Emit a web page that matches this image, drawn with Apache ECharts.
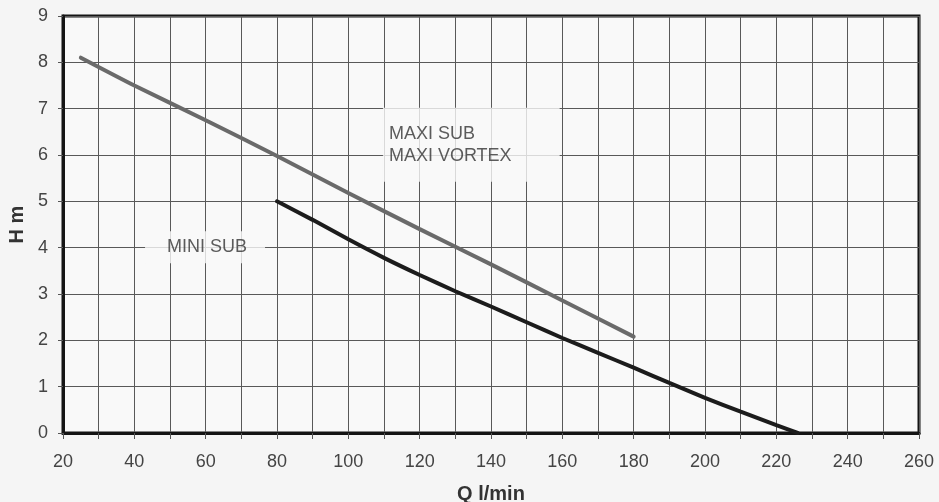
<!DOCTYPE html>
<html>
<head>
<meta charset="utf-8">
<script src="https://cdn.jsdelivr.net/npm/echarts@6/dist/echarts.min.js"></script>
<style>
html,body{margin:0;padding:0;background:#f5f5f5;}
#c{width:939px;height:502px;}
</style>
</head>
<body>
<div id="c"></div>
<script>
// Data
const maxiQ = [25, 40, 60, 80, 100, 120, 140, 160, 180];
const maxiH = [8.1, 7.5, 6.75, 5.98, 5.18, 4.4, 3.64, 2.86, 2.08];
const miniQ = [80, 90, 100, 110, 120, 130, 140, 150, 160, 170, 180, 190, 200, 210, 220, 226];
const miniH = [5.0, 4.6, 4.18, 3.78, 3.41, 3.06, 2.73, 2.39, 2.05, 1.73, 1.41, 1.08, 0.76, 0.46, 0.17, 0.0];
const xTitle = 'Q l/min';
const yTitle = 'H m';
const maxiLabel = 'MAXI SUB\nMAXI VORTEX';
const miniLabel = 'MINI SUB';

const FONT = 'Liberation Sans, Arial, sans-serif';
const chart = echarts.init(document.getElementById('c'));
chart.setOption({
  backgroundColor: '#f5f5f5',
  animation: false,
  grid: {left: 63, right: 20, top: 16, bottom: 69, show: true, containLabel: false,
         outerBoundsMode: 'none',
         borderColor: '#141414', borderWidth: 3, backgroundColor: '#f9f9f9'},
  xAxis: {
    type: 'value', min: 20, max: 260, interval: 10,
    name: xTitle, nameLocation: 'middle', nameGap: 51,
    nameTextStyle: {fontFamily: FONT, fontSize: 20, fontWeight: 'bold', color: '#333'},
    axisLine: {show: true, onZero: false, lineStyle: {color: '#141414', width: 3}},
    axisTick: {show: true, length: 6, lineStyle: {color: '#555', width: 1}},
    axisLabel: {fontFamily: FONT, fontSize: 18, color: '#444', margin: 20,
      formatter: v => (v % 20 === 0 ? String(v) : '')},
    splitLine: {show: true, lineStyle: {color: '#595959', width: 1}}
  },
  yAxis: {
    type: 'value', min: 0, max: 9, interval: 1,
    name: yTitle, nameLocation: 'middle', nameGap: 36, nameRotate: 90,
    nameTextStyle: {fontFamily: FONT, fontSize: 20, fontWeight: 'bold', color: '#333'},
    axisLine: {show: true, onZero: false, lineStyle: {color: '#141414', width: 3}},
    axisTick: {show: true, length: 5, lineStyle: {color: '#555', width: 1}},
    axisLabel: {fontFamily: FONT, fontSize: 18, color: '#444', margin: 15},
    splitLine: {show: true, lineStyle: {color: '#595959', width: 1}}
  },
  series: [
    {
      type: 'scatter', symbolSize: 0, silent: true, z: 1,
      data: [[109.7, 6.22]],
      label: {show: true, position: 'right', distance: 0, formatter: maxiLabel,
        fontFamily: FONT, fontSize: 18, lineHeight: 22, color: '#333',
        backgroundColor: '#f9f9f9', padding: [6, 48, 24, 6]}
    },
    {
      type: 'scatter', symbolSize: 0, silent: true, z: 1,
      data: [[43.0, 4.01]],
      label: {show: true, position: 'right', distance: 0, formatter: miniLabel,
        fontFamily: FONT, fontSize: 18, lineHeight: 18, color: '#333',
        backgroundColor: '#f9f9f9', padding: [7, 18, 7, 22]}
    },
    {
      name: 'MAXI', type: 'line', showSymbol: false, z: 3, smooth: 0.2,
      data: maxiQ.map((q, i) => [q, maxiH[i]]),
      lineStyle: {color: '#6a6a6a', width: 4, cap: 'round'}
    },
    {
      name: 'MINI', type: 'line', showSymbol: false, z: 4, smooth: 0.2,
      data: miniQ.map((q, i) => [q, miniH[i]]),
      lineStyle: {color: '#1c1c1c', width: 4, cap: 'round'}
    }
  ]
});
</script>
</body>
</html>
